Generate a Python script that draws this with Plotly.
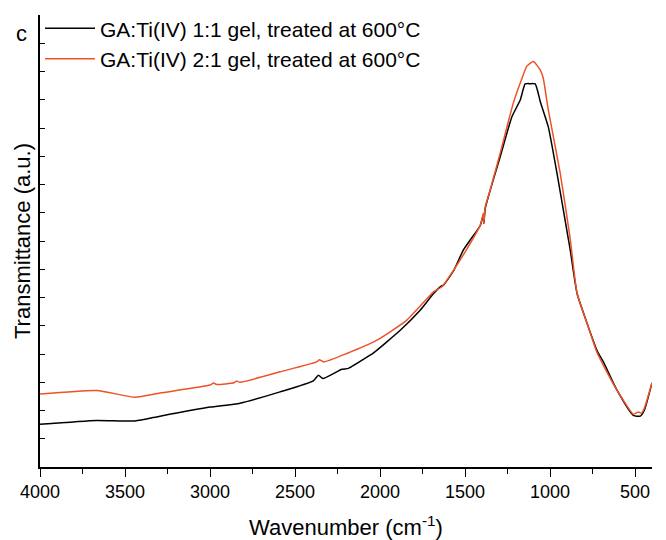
import plotly.graph_objects as go

# Wavenumbers (cm-1) and transmittance (a.u.)
wn_11 = [4000, 3666, 3441, 3294, 3000, 2823, 2588, 2392, 2362, 2336, 2224, 2186, 2058, 2038,
         1881, 1764, 1685, 1646, 1626, 1567, 1510, 1465, 1410, 1391, 1389, 1381, 1334, 1293,
         1224, 1175, 1146, 1116, 1087, 1057, 1010, 959, 892, 881, 841, 782, 724, 686, 606,
         510, 469, 445, 400]
t_11 = [1.51, 1.65, 1.63, 1.80, 2.12, 2.26, 2.66, 3.05, 3.25, 3.13, 3.46, 3.49, 3.96, 4.04,
        4.84, 5.55, 6.14, 6.38, 6.44, 6.95, 7.68, 8.07, 8.55, 8.95, 8.62, 9.15, 10.16, 10.98,
        12.40, 12.99, 13.56, 13.57, 13.56, 12.93, 12.04, 10.40, 8.07, 7.68, 6.15, 5.09, 4.13,
        3.72, 2.72, 1.83, 1.80, 2.01, 2.98]

wn_21 = [4000, 3666, 3441, 3294, 3000, 2980, 2960, 2860, 2845, 2823, 2588, 2372, 2356, 2332,
         2195, 2018, 1842, 1685, 1636, 1567, 1469, 1410, 1391, 1389, 1381, 1352, 1293, 1216,
         1175, 1136, 1098, 1057, 1040, 1010, 940, 881, 841, 782, 724, 686, 606, 510, 480,
         463, 445, 400]
t_21 = [2.58, 2.71, 2.47, 2.62, 2.90, 2.97, 2.92, 2.98, 3.04, 3.00, 3.37, 3.72, 3.80, 3.72,
        4.02, 4.49, 5.20, 6.20, 6.38, 6.97, 7.92, 8.56, 8.99, 8.63, 9.20, 9.80, 11.11, 12.88,
        13.59, 14.19, 14.35, 14.05, 13.77, 12.64, 10.40, 8.07, 6.15, 5.09, 4.06, 3.60, 2.72,
        1.87, 1.95, 1.90, 2.08, 2.98]

names = ["GA:Ti(IV) 1:1 gel, treated at 600°C", "GA:Ti(IV) 2:1 gel, treated at 600°C"]
colors = ["#000000", "#EF5128"]

x_ticks = [4000, 3500, 3000, 2500, 2000, 1500, 1000, 500]

FONT = "Liberation Sans, Arial, sans-serif"

fig = go.Figure()
fig.add_trace(go.Scatter(x=wn_11, y=t_11, mode="lines", name=names[0],
                         line=dict(color=colors[0], width=1.5, shape="spline", smoothing=0.5)))
fig.add_trace(go.Scatter(x=wn_21, y=t_21, mode="lines", name=names[1],
                         line=dict(color=colors[1], width=1.5, shape="spline", smoothing=0.5)))

fig.update_layout(
    width=666, height=540,
    margin=dict(l=40, r=14, t=15, b=73, autoexpand=False),
    plot_bgcolor="white", paper_bgcolor="white",
    font=dict(family=FONT, color="black"),
    showlegend=True,
    legend=dict(x=0.0, y=1.015, xanchor="left", yanchor="top",
                bgcolor="rgba(0,0,0,0)", font=dict(size=21, family=FONT),
                itemwidth=50, tracegroupgap=0),
    xaxis=dict(range=[4000, 400], tickvals=x_ticks, ticktext=[str(v) for v in x_ticks],
               ticks="outside", ticklen=8, tickwidth=1.3, tickcolor="black",
               showline=True, linecolor="black", linewidth=1.5, showgrid=False,
               zeroline=False, tickfont=dict(size=18, family=FONT), automargin=False,
               minor=dict(dtick=250, tick0=0, ticks="outside", ticklen=5,
                          tickwidth=1.3, tickcolor="black", showgrid=False),
               title=dict(text="Wavenumber (cm<sup>-1</sup>)", font=dict(size=22, family=FONT),
                          standoff=24)),
    yaxis=dict(range=[0, 16], dtick=1, tick0=0, ticks="inside", ticklen=5, tickwidth=1.3,
               tickcolor="black", showticklabels=False, showline=True, linecolor="black",
               linewidth=1.5, showgrid=False, zeroline=False, automargin=False,
               title=dict(text="Transmittance (a.u.)", font=dict(size=22, family=FONT),
                          standoff=2)),
    annotations=[dict(text="c", x=-0.03, y=0.96, xref="paper", yref="paper",
                      xanchor="center", yanchor="middle", showarrow=False,
                      font=dict(size=22, family=FONT))],
)

fig.write_html("out.html")
